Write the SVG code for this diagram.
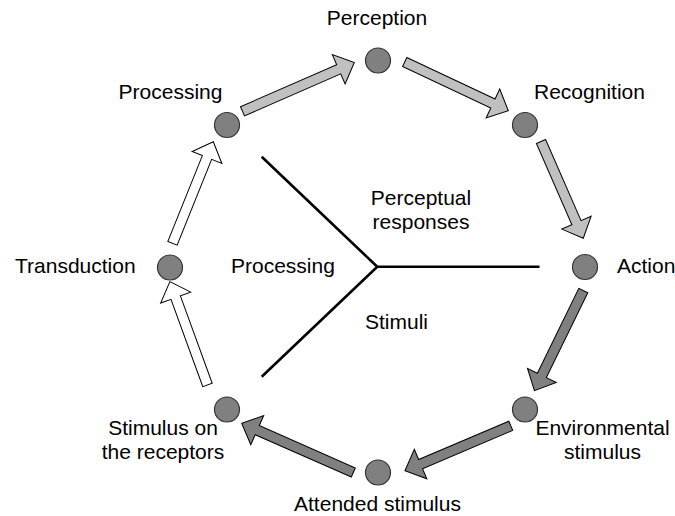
<svg xmlns="http://www.w3.org/2000/svg" width="675" height="516" viewBox="0 0 675 516">
  <style>
    text { font-family: "Liberation Sans", Arial, sans-serif; font-size: 21px; fill: #000; }
    .node circle { fill: #808080; stroke: #333; stroke-width: 1.2; }
    .arrow { stroke: #000; stroke-width: 1; stroke-linejoin: miter; }
    .light { fill: #c0c0c0; }
    .dark { fill: #808080; }
    .open { fill: #fff; }
    .divider { stroke: #000; stroke-width: 2.6; fill: none; stroke-linecap: butt; }
  </style>
  <rect width="675" height="516" fill="#fff"/>

  <!-- central divider lines -->
  <g id="dividers">
    <path class="divider" d="M261.7,156.7 L377.3,266.8 L261.7,376.8 M377.3,266.8 H539.5"/>
    <text x="231" y="273">Processing</text>
    <text x="421" y="205" text-anchor="middle">Perceptual</text>
    <text x="421" y="229" text-anchor="middle">responses</text>
    <text x="365" y="329">Stimuli</text>
  </g>

  <!-- block arrows between stages -->
  <g id="connectors">
    <path class="arrow light" transform="translate(242.5,111.3) rotate(-23.6)" d="M0,-5 H105 V-16 L122,0 L105,16 V5 H0 Z"/>
    <path class="arrow light" transform="translate(404.7,62) rotate(25.2)" d="M0,-5 H97.5 V-16 L114.5,0 L97.5,16 V5 H0 Z"/>
    <path class="arrow light" transform="translate(541,141.5) rotate(66.4)" d="M0,-5 H88.6 V-16 L105.6,0 L88.6,16 V5 H0 Z"/>
    <path class="arrow dark" transform="translate(583.3,290.5) rotate(116)" d="M0,-5 H94.5 V-16 L111.5,0 L94.5,16 V5 H0 Z"/>
    <path class="arrow dark" transform="translate(510.8,425.8) rotate(157)" d="M0,-5 H98 V-16 L115,0 L98,16 V5 H0 Z"/>
    <path class="arrow dark" transform="translate(353.3,472.5) rotate(203.8)" d="M0,-5 H105 V-16 L122,0 L105,16 V5 H0 Z"/>
    <path class="arrow open" transform="translate(207.5,385) rotate(-110)" d="M0,-5 H93 V-16 L110,0 L93,16 V5 H0 Z"/>
    <path class="arrow open" transform="translate(172.5,243.3) rotate(-68.1)" d="M0,-5 H92.5 V-16 L109.5,0 L92.5,16 V5 H0 Z"/>
  </g>

  <!-- stage nodes -->
  <g id="perception" class="node">
    <circle cx="378" cy="60.5" r="12.5"/>
    <text x="377" y="25" text-anchor="middle">Perception</text>
  </g>
  <g id="recognition" class="node">
    <circle cx="525" cy="125" r="12.5"/>
    <text x="534" y="98.5">Recognition</text>
  </g>
  <g id="action" class="node">
    <circle cx="585" cy="267" r="12.5"/>
    <text x="617" y="273">Action</text>
  </g>
  <g id="environmental-stimulus" class="node">
    <circle cx="525" cy="409.5" r="12.5"/>
    <text x="602.5" y="435" text-anchor="middle">Environmental</text>
    <text x="602.5" y="459" text-anchor="middle">stimulus</text>
  </g>
  <g id="attended-stimulus" class="node">
    <circle cx="378" cy="472.5" r="12.5"/>
    <text x="377.5" y="511" text-anchor="middle">Attended stimulus</text>
  </g>
  <g id="stimulus-on-receptors" class="node">
    <circle cx="227" cy="409.5" r="12.5"/>
    <text x="163" y="435" text-anchor="middle">Stimulus on</text>
    <text x="163" y="459" text-anchor="middle">the receptors</text>
  </g>
  <g id="transduction" class="node">
    <circle cx="170" cy="267.5" r="12.5"/>
    <text x="15" y="273">Transduction</text>
  </g>
  <g id="processing" class="node">
    <circle cx="227" cy="125" r="12.5"/>
    <text x="170.5" y="99" text-anchor="middle">Processing</text>
  </g>
</svg>
